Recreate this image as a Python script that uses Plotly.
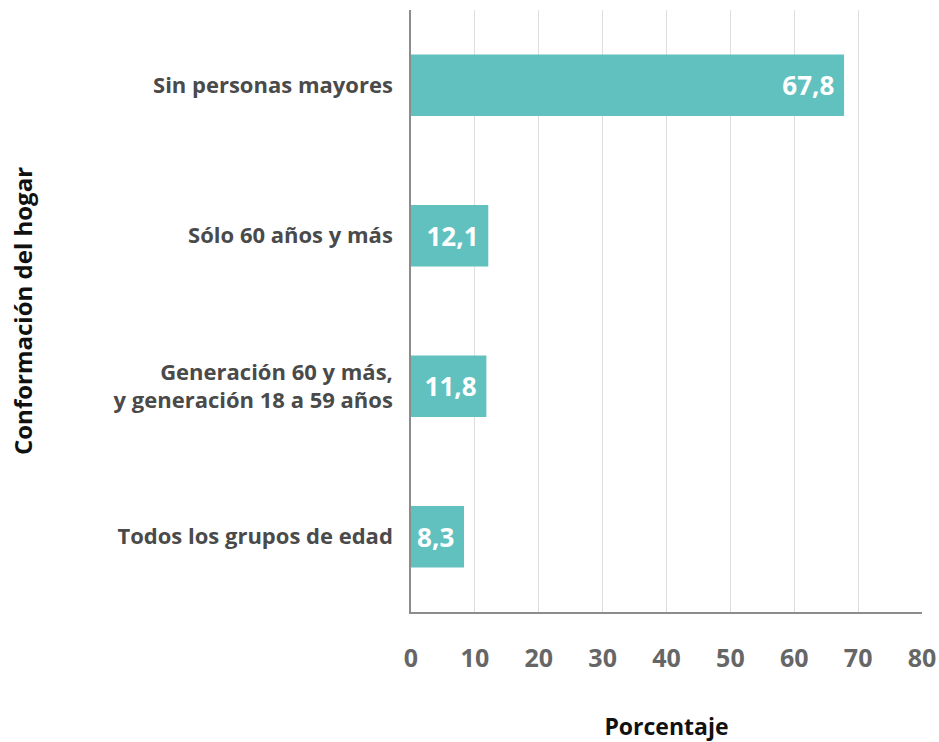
import plotly.graph_objects as go

# ─── Data ─────────────────────────────────────────────────────────────────────

categories = [
    "Sin personas mayores",
    "Sólo 60 años y más",
    "Generación 60 y más,<br>y generación 18 a 59 años",
    "Todos los grupos de edad",
]
values = [67.8, 12.1, 11.8, 8.3]
value_labels = ["67,8", "12,1", "11,8", "8,3"]
x_ticks = [0, 10, 20, 30, 40, 50, 60, 70, 80]

FONT = "'Open Sans', Lato, sans-serif"
BAR = "#61c1bf"

# ─── Figure ───────────────────────────────────────────────────────────────────

fig = go.Figure(go.Bar(
    x=values, y=categories,
    orientation="h",
    marker=dict(color=BAR, line=dict(width=0)),
    width=0.41,
    # trailing nbsp gives the label some breathing room from the bar end
    text=[t + "\u00a0" for t in value_labels],
    textposition="inside",
    insidetextanchor="end",
    textfont=dict(color="white", size=26, family=FONT, weight="bold"),
    hoverinfo="skip",
))

fig.update_layout(
    width=939, height=742,
    paper_bgcolor="white",
    plot_bgcolor="white",
    margin=dict(l=411, r=17, t=10, b=130, autoexpand=False),
    font=dict(family=FONT),
    showlegend=False,
    uniformtext=dict(minsize=26, mode="show"),
    xaxis=dict(
        range=[0, 80],
        tickvals=x_ticks,
        ticktext=[str(v) for v in x_ticks],
        tickfont=dict(size=25, color="#666666", weight="bold"),
        ticklabelstandoff=23,
        showgrid=True, gridcolor="#dedede", gridwidth=1,
        zeroline=False,
        showline=True, linecolor="#8c8c8c", linewidth=1.5,
        title=dict(text="Porcentaje", standoff=48,
                   font=dict(size=23, color="#111111", weight="bold")),
        fixedrange=True,
    ),
    yaxis=dict(
        categoryorder="array",
        categoryarray=categories[::-1],
        range=[-0.5, 3.5],
        tickfont=dict(size=22, color="#4a4a4a", weight="bold"),
        ticklabelstandoff=12,
        showgrid=False,
        zeroline=False,
        showline=True, linecolor="#8c8c8c", linewidth=1.5,
        title=dict(text="Conformación del hogar", standoff=74,
                   font=dict(size=24, color="#111111", weight="bold")),
        fixedrange=True,
    ),
)

# the page body has a default 8px margin; drop it so the chart sits at 0,0
fig.write_html("out.html", config={"displayModeBar": False},
               post_script="document.body.style.margin='0';")
